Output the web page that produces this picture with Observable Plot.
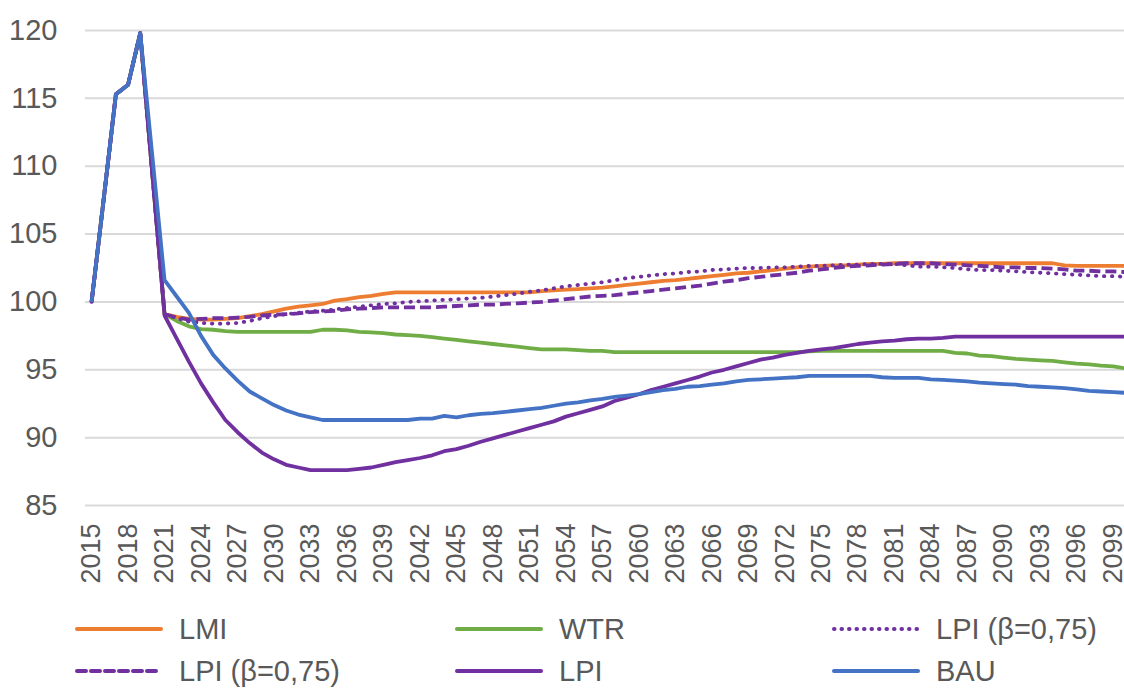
<!DOCTYPE html>
<html>
<head>
<meta charset="utf-8">
<script src="https://cdn.jsdelivr.net/npm/d3@7"></script>
<script src="https://cdn.jsdelivr.net/npm/@observablehq/plot@0.6"></script>
<style>
  html, body { margin: 0; padding: 0; background: #fff; }
  body { width: 1124px; height: 689px; overflow: hidden; font-family: "Liberation Sans", Arial, sans-serif; }
  #legend { position: relative; width: 1124px; height: 89px; color: #595959; font-size: 29px; }
  .item { position: absolute; display: flex; align-items: center; height: 40px; }
  .item svg { margin-right: 16px; }
</style>
</head>
<body>
<div id="chart"></div>
<div id="legend"></div>
<script>
const years = d3.range(2015, 2101);
const xTicks = d3.range(2015, 2100, 3);
const yTicks = [85, 90, 95, 100, 105, 110, 115, 120];

const seriesNames = ["LMI", "WTR", "LPI (β=0,75)", "LPI (β=0,75)", "LPI", "BAU"];

const lmi = [100, 107.6, 115.3, 116.0, 119.8, 109.4,
  99.1, 98.9, 98.75, 98.7, 98.7, 98.75, 98.8, 98.95, 99.1, 99.3,
  99.5, 99.65, 99.75, 99.85, 100.1, 100.2, 100.35, 100.45, 100.6, 100.7,
  100.7, 100.7, 100.7, 100.7, 100.7, 100.7, 100.7, 100.7, 100.7, 100.7,
  100.7, 100.8, 100.85, 100.9, 100.95, 101.0, 101.05, 101.15, 101.25, 101.35,
  101.45, 101.55, 101.6, 101.7, 101.8, 101.9, 102.0, 102.1, 102.15, 102.25,
  102.35, 102.45, 102.55, 102.6, 102.65, 102.7, 102.7, 102.75, 102.8, 102.8,
  102.85, 102.85, 102.85, 102.85, 102.85, 102.85, 102.85, 102.85, 102.85, 102.85,
  102.85, 102.85, 102.85, 102.85, 102.7, 102.65, 102.65, 102.65, 102.65, 102.65];

const wtr = [100, 107.6, 115.3, 116.0, 119.8, 109.4,
  99.1, 98.6, 98.2, 98.0, 97.95, 97.85, 97.8, 97.8, 97.8, 97.8,
  97.8, 97.8, 97.8, 97.95, 97.95, 97.9, 97.8, 97.75, 97.7, 97.6,
  97.55, 97.5, 97.4, 97.3, 97.2, 97.1, 97.0, 96.9, 96.8, 96.7,
  96.6, 96.5, 96.5, 96.5, 96.45, 96.4, 96.4, 96.3, 96.3, 96.3,
  96.3, 96.3, 96.3, 96.3, 96.3, 96.3, 96.3, 96.3, 96.3, 96.3,
  96.3, 96.3, 96.3, 96.35, 96.4, 96.4, 96.4, 96.4, 96.4, 96.4,
  96.4, 96.4, 96.4, 96.4, 96.4, 96.25, 96.2, 96.05, 96.0, 95.9,
  95.8, 95.75, 95.7, 95.65, 95.55, 95.45, 95.4, 95.3, 95.25, 95.1];

const lpiDotted = [100, 107.6, 115.3, 116.0, 119.8, 109.4,
  99.1, 98.8, 98.55, 98.45, 98.4, 98.4, 98.45, 98.6, 98.8, 98.95,
  99.1, 99.2, 99.3, 99.35, 99.45, 99.55, 99.65, 99.75, 99.85, 99.9,
  100.0, 100.05, 100.1, 100.15, 100.2, 100.25, 100.3, 100.4, 100.5, 100.6,
  100.75, 100.85, 101.0, 101.15, 101.25, 101.35, 101.45, 101.6, 101.75, 101.85,
  101.95, 102.05, 102.1, 102.2, 102.25, 102.35, 102.4, 102.45, 102.5, 102.5,
  102.55, 102.55, 102.6, 102.65, 102.65, 102.7, 102.75, 102.75, 102.8, 102.8,
  102.8, 102.7, 102.6, 102.6, 102.55, 102.5, 102.4, 102.35, 102.35, 102.3,
  102.25, 102.2, 102.15, 102.1, 102.05, 102.0, 101.95, 101.9, 101.9, 101.85];

const lpiDashed = [100, 107.6, 115.3, 116.0, 119.8, 109.4,
  99.1, 98.85, 98.7, 98.75, 98.8, 98.8, 98.85, 98.9, 99.0, 99.05,
  99.1, 99.15, 99.25, 99.3, 99.35, 99.45, 99.5, 99.55, 99.6, 99.6,
  99.6, 99.6, 99.6, 99.65, 99.7, 99.75, 99.8, 99.8, 99.85, 99.9,
  99.95, 100.0, 100.1, 100.2, 100.3, 100.4, 100.45, 100.5, 100.6, 100.7,
  100.8, 100.9, 101.0, 101.1, 101.2, 101.35, 101.5, 101.6, 101.75, 101.85,
  101.95, 102.05, 102.15, 102.3, 102.4, 102.5, 102.6, 102.65, 102.7, 102.75,
  102.8, 102.85, 102.85, 102.85, 102.8, 102.75, 102.7, 102.65, 102.6, 102.55,
  102.55, 102.5, 102.5, 102.45, 102.4, 102.3, 102.3, 102.25, 102.25, 102.2];

const lpi = [100, 107.6, 115.3, 116.0, 119.8, 109.4,
  99.0, 97.3, 95.6, 94.0, 92.6, 91.3, 90.4, 89.6, 88.9, 88.4,
  88.0, 87.8, 87.6, 87.6, 87.6, 87.6, 87.7, 87.8, 88.0, 88.2,
  88.35, 88.5, 88.7, 89.0, 89.15, 89.4, 89.7, 89.95, 90.2, 90.45,
  90.7, 90.95, 91.2, 91.55, 91.8, 92.05, 92.3, 92.7, 92.95, 93.2,
  93.5, 93.75, 94.0, 94.25, 94.5, 94.8, 95.0, 95.25, 95.5, 95.75,
  95.9, 96.1, 96.25, 96.4, 96.5, 96.6, 96.75, 96.9, 97.0, 97.1,
  97.15, 97.25, 97.3, 97.3, 97.35, 97.45, 97.45, 97.45, 97.45, 97.45,
  97.45, 97.45, 97.45, 97.45, 97.45, 97.45, 97.45, 97.45, 97.45, 97.45];

const bau = [100, 107.6, 115.3, 116.0, 119.8, 110.7,
  101.6, 100.4, 99.2, 97.5, 96.1, 95.1, 94.2, 93.4, 92.9, 92.4,
  92.0, 91.7, 91.5, 91.3, 91.3, 91.3, 91.3, 91.3, 91.3, 91.3,
  91.3, 91.4, 91.4, 91.6, 91.5, 91.65, 91.75, 91.8, 91.9, 92.0,
  92.1, 92.2, 92.35, 92.5, 92.6, 92.75, 92.85, 93.0, 93.1, 93.2,
  93.35, 93.5, 93.6, 93.75, 93.8, 93.9, 94.0, 94.15, 94.25, 94.3,
  94.35, 94.4, 94.45, 94.55, 94.55, 94.55, 94.55, 94.55, 94.55, 94.45,
  94.4, 94.4, 94.4, 94.3, 94.25, 94.2, 94.15, 94.05, 94.0, 93.95,
  93.9, 93.8, 93.75, 93.7, 93.65, 93.55, 93.45, 93.4, 93.35, 93.3];

const seriesValues = [lmi, wtr, lpiDotted, lpiDashed, lpi, bau];
const seriesColors = ["#ED7D31", "#70AD47", "#7030A0", "#7030A0", "#7030A0", "#4472C4"];
const seriesDash = [null, null, "0.5 7.5", "11 5", null, null];
const seriesCap = ["butt", "butt", "round", "butt", "butt", "butt"];

const rows = (vals) => years.map((yr, i) => ({year: yr, value: vals[i]}));

const lineMarks = seriesValues.map((vals, k) => Plot.line(rows(vals), {
  x: "year", y: "value",
  stroke: seriesColors[k],
  strokeWidth: 3.8,
  strokeDasharray: seriesDash[k],
  strokeLinecap: seriesCap[k],
  strokeLinejoin: "round"
}));

const chart = Plot.plot({
  width: 1124,
  height: 600,
  marginLeft: 85,
  marginRight: 0,
  marginTop: 30,
  marginBottom: 95,
  style: {fontFamily: "'Liberation Sans', Arial, sans-serif", background: "#fff", overflow: "hidden"},
  x: {type: "linear", domain: [2014.5, 2100.5], range: [85, 1131]},
  y: {domain: [85, 120]},
  marks: [
    Plot.ruleY(yTicks, {stroke: "#d9d9d9", strokeWidth: 2}),
    Plot.axisY({ticks: yTicks, tickSize: 0, tickPadding: 28, fontSize: 29, color: "#595959", label: null}),
    Plot.axisX({ticks: xTicks, tickFormat: d => String(d), tickRotate: -90, tickSize: 0, tickPadding: 18, fontSize: 27, color: "#595959", label: null}),
    ...lineMarks
  ]
});
document.getElementById("chart").appendChild(chart);

// Legend
const legendPos = [[75, 9], [455, 9], [832, 9], [75, 51], [455, 51], [832, 51]];
const legend = document.getElementById("legend");
seriesNames.forEach((name, k) => {
  const div = document.createElement("div");
  div.className = "item";
  div.style.left = legendPos[k][0] + "px";
  div.style.top = legendPos[k][1] + "px";
  const ns = "http://www.w3.org/2000/svg";
  const s = document.createElementNS(ns, "svg");
  s.setAttribute("width", 88); s.setAttribute("height", 10);
  const l = document.createElementNS(ns, "line");
  l.setAttribute("x1", 2); l.setAttribute("x2", 86); l.setAttribute("y1", 5); l.setAttribute("y2", 5);
  l.setAttribute("stroke", seriesColors[k]); l.setAttribute("stroke-width", 4);
  l.setAttribute("stroke-linecap", "round");
  if (seriesDash[k]) l.setAttribute("stroke-dasharray", k === 2 ? "0.5 7" : "9 5");
  s.appendChild(l);
  div.appendChild(s);
  const t = document.createElement("span");
  t.textContent = name;
  div.appendChild(t);
  legend.appendChild(div);
});
</script>
</body>
</html>
